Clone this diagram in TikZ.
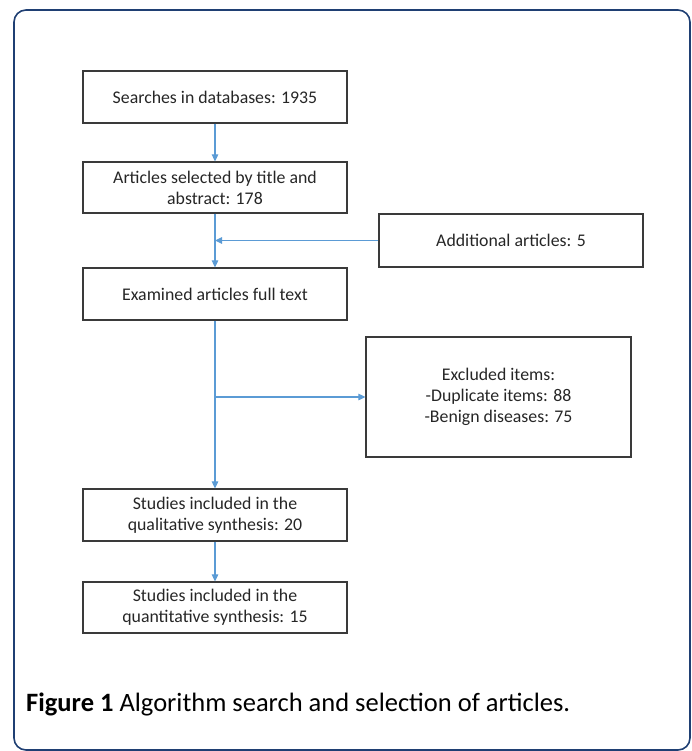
\documentclass[tikz,border=0pt]{standalone}
\usepackage{fontspec}
\setmainfont{Carlito}
\usetikzlibrary{arrows.meta}
\definecolor{framec}{HTML}{1F3F73}
\definecolor{arrc}{HTML}{5B9BD5}
\definecolor{boxc}{HTML}{3A3A3A}
\definecolor{txtc}{HTML}{262626}
\tikzset{
  stepbox/.style={draw=boxc, line width=1.2pt, minimum width=264pt, minimum height=52pt,
    inner sep=0pt, align=center, text=txtc, font=\fontsize{17.8}{21}\selectfont},
  flow/.style={draw=arrc, line width=1.1pt, -{Triangle[length=7pt,width=6.5pt]}},
}
\begin{document}
\begin{tikzpicture}[x=1pt,y=-1pt]
\useasboundingbox (0,0) rectangle (692,751);
\draw[framec, line width=1.6pt, rounded corners=12pt] (14,10) rectangle (690,750);
\node[stepbox] (b1) at (215,97) {Searches in databases: 1935};
\node[stepbox, minimum height=51pt] (b2) at (215,187.5) {Articles selected by title and\\abstract: 178};
\node[stepbox, minimum height=53pt] (add) at (511,240.5) {Additional articles: 5};
\node[stepbox] (b3) at (215,294) {Examined articles full text};
\node[stepbox, minimum width=265pt, minimum height=120pt] (excl) at (498.5,397) {Excluded items:\\-Duplicate items: 88\\-Benign diseases: 75};
\node[stepbox] (b4) at (215,515) {Studies included in the\\qualitative synthesis: 20};
\node[stepbox, minimum height=51pt] (b5) at (215,607.5) {Studies included in the\\quantitative synthesis: 15};
\coordinate (j1) at (b2.south |- add.west);
\coordinate (j2) at (b3.south |- excl.west);
\draw[flow] (b1) -- (b2);
\draw[flow] (b2) -- (b3);
\draw[flow] (add) -- (j1);
\draw[flow] (b3) -- (b4);
\draw[flow] (j2) -- (excl);
\draw[flow] (b4) -- (b5);
\node[anchor=base west, inner sep=0pt, text=black, font=\fontsize{26.5}{30}\selectfont] (cap) at (26,711) {\textbf{Figure 1} Algorithm search and selection of articles.};
\end{tikzpicture}
\end{document}
